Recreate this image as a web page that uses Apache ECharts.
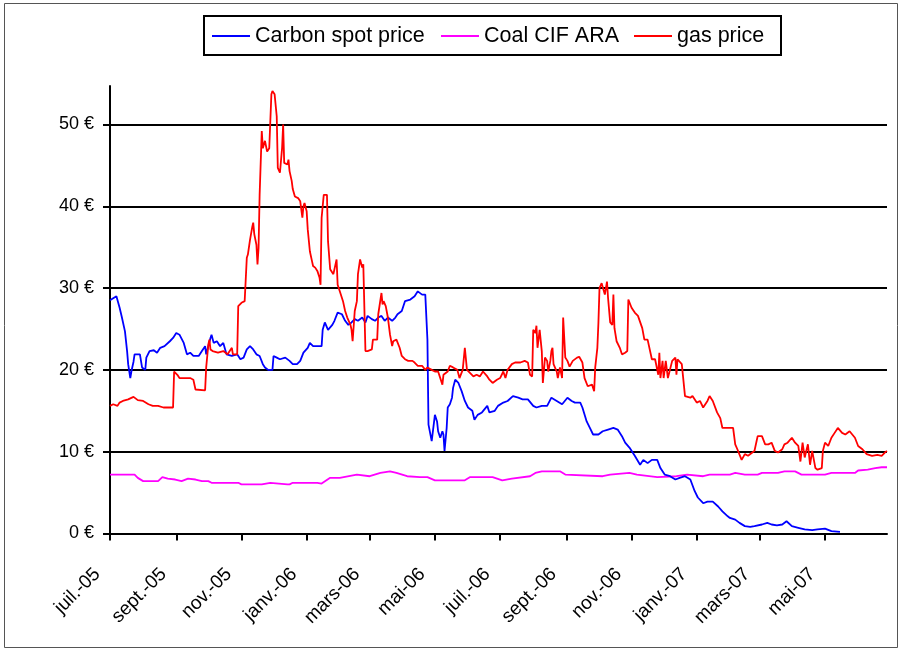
<!DOCTYPE html>
<html>
<head>
<meta charset="utf-8">
<script src="https://cdn.jsdelivr.net/npm/echarts@6/dist/echarts.min.js"></script>
<style>
html,body{margin:0;padding:0;background:#fff;}
#chart{width:905px;height:655px;}
</style>
</head>
<body>
<div id="chart"></div>
<script>
// ---- Data ----
const seriesNames = ['Carbon spot price', 'Coal CIF ARA', 'gas price'];

const tickDates = ['2005-07-01','2005-09-01','2005-11-01','2006-01-01','2006-03-01','2006-05-01',
                   '2006-07-01','2006-09-01','2006-11-01','2007-01-01','2007-03-01','2007-05-01'];
const tickLabels = ['juil.-05','sept.-05','nov.-05','janv.-06','mars-06','mai-06',
                    'juil.-06','sept.-06','nov.-06','janv.-07','mars-07','mai-07'];
const yTicks = [0, 10, 20, 30, 40, 50];

const carbonData = [
['2005-07-01',28.5],['2005-07-07',29.0],['2005-07-10',27.6],['2005-07-12',26.5],['2005-07-15',24.7],
['2005-07-17',22.3],['2005-07-18',20.7],['2005-07-20',19.0],['2005-07-21',19.8],['2005-07-23',21.0],
['2005-07-24',21.9],['2005-07-29',21.9],['2005-07-31',20.3],['2005-08-03',20.0],['2005-08-04',21.5],
['2005-08-07',22.3],['2005-08-11',22.4],['2005-08-14',22.1],['2005-08-17',22.7],['2005-08-21',22.9],
['2005-08-26',23.5],['2005-08-29',23.9],['2005-09-01',24.5],['2005-09-04',24.3],['2005-09-08',23.3],
['2005-09-11',21.9],['2005-09-14',22.1],['2005-09-17',21.7],['2005-09-22',21.7],['2005-09-25',22.3],
['2005-09-28',22.9],['2005-09-29',21.9],['2005-10-03',23.9],['2005-10-04',24.3],['2005-10-06',23.3],
['2005-10-09',23.5],['2005-10-12',22.9],['2005-10-15',23.3],['2005-10-18',21.9],['2005-10-23',21.7],
['2005-10-28',21.9],['2005-10-31',21.3],['2005-11-03',21.5],['2005-11-06',22.5],['2005-11-09',22.9],
['2005-11-12',22.5],['2005-11-15',21.9],['2005-11-18',21.7],['2005-11-21',20.7],['2005-11-23',20.3],
['2005-11-26',20.0],['2005-11-30',20.0],['2005-12-01',21.7],['2005-12-04',21.5],['2005-12-07',21.3],
['2005-12-12',21.5],['2005-12-16',21.1],['2005-12-19',20.7],['2005-12-23',20.7],['2005-12-26',21.1],
['2005-12-29',22.1],['2006-01-02',22.7],['2006-01-04',23.3],['2006-01-07',22.9],['2006-01-15',22.9],
['2006-01-16',24.9],['2006-01-18',25.8],['2006-01-21',24.9],['2006-01-25',25.5],['2006-01-27',26.0],
['2006-01-30',27.0],['2006-02-03',26.8],['2006-02-06',26.0],['2006-02-09',25.5],['2006-02-12',25.8],
['2006-02-15',26.2],['2006-02-18',26.0],['2006-02-22',26.4],['2006-02-25',25.8],['2006-02-27',26.6],
['2006-03-03',26.2],['2006-03-06',26.0],['2006-03-09',26.4],['2006-03-12',26.6],['2006-03-15',26.0],
['2006-03-18',26.4],['2006-03-22',26.0],['2006-03-25',26.4],['2006-03-27',26.8],['2006-03-31',27.2],
['2006-04-03',28.4],['2006-04-08',28.6],['2006-04-12',29.0],['2006-04-15',29.6],['2006-04-19',29.2],
['2006-04-22',29.2],['2006-04-24',23.7],['2006-04-25',13.3],['2006-04-26',13.1],['2006-04-28',11.3],
['2006-04-29',11.1],['2006-05-01',14.5],['2006-05-03',13.7],['2006-05-04',12.5],['2006-05-06',11.7],
['2006-05-08',12.5],['2006-05-09',12.1],['2006-05-10',10.1],['2006-05-12',12.9],['2006-05-13',15.4],
['2006-05-15',15.8],['2006-05-17',16.6],['2006-05-18',17.8],['2006-05-20',18.8],['2006-05-23',18.4],
['2006-05-26',17.4],['2006-05-29',16.2],['2006-06-01',15.4],['2006-06-05',15.0],['2006-06-07',13.9],
['2006-06-10',14.5],['2006-06-14',14.8],['2006-06-19',15.6],['2006-06-21',14.8],['2006-06-26',15.0],
['2006-06-29',15.6],['2006-07-04',16.0],['2006-07-08',16.2],['2006-07-13',16.8],['2006-07-18',16.6],
['2006-07-22',16.4],['2006-07-27',16.4],['2006-08-01',15.6],['2006-08-04',15.4],['2006-08-09',15.6],
['2006-08-14',15.6],['2006-08-18',16.6],['2006-08-23',16.2],['2006-08-28',15.8],['2006-09-02',16.6],
['2006-09-06',16.2],['2006-09-09',16.0],['2006-09-14',16.0],['2006-09-16',15.4],['2006-09-20',13.7],
['2006-09-23',12.9],['2006-09-26',12.1],['2006-10-01',12.1],['2006-10-05',12.5],['2006-10-10',12.7],
['2006-10-15',12.9],['2006-10-19',12.7],['2006-10-23',11.9],['2006-10-26',11.1],['2006-10-30',10.5],
['2006-11-04',9.5],['2006-11-09',8.4],['2006-11-12',9.0],['2006-11-16',8.6],['2006-11-20',9.0],
['2006-11-25',9.0],['2006-11-28',8.0],['2006-12-02',7.2],['2006-12-07',7.0],['2006-12-12',6.6],
['2006-12-16',6.8],['2006-12-21',7.0],['2006-12-26',6.6],['2006-12-30',5.2],['2007-01-02',4.4],
['2007-01-07',3.7],['2007-01-11',3.9],['2007-01-16',3.9],['2007-01-21',3.3],['2007-01-25',2.7],
['2007-01-30',2.1],['2007-02-01',1.9],['2007-02-06',1.7],['2007-02-10',1.3],['2007-02-15',0.9],
['2007-02-20',0.8],['2007-02-24',0.9],['2007-03-03',1.1],['2007-03-08',1.3],['2007-03-12',1.1],
['2007-03-17',1.0],['2007-03-22',1.1],['2007-03-26',1.5],['2007-03-31',0.9],['2007-04-06',0.7],
['2007-04-12',0.5],['2007-04-19',0.4],['2007-04-24',0.5],['2007-05-01',0.6],['2007-05-07',0.3],
['2007-05-15',0.2]
];

const coalData = [
['2005-07-01',7.2],['2005-07-24',7.2],['2005-07-27',6.8],['2005-08-01',6.4],['2005-08-15',6.4],
['2005-08-19',6.9],['2005-08-24',6.7],['2005-08-31',6.6],['2005-09-06',6.4],['2005-09-12',6.7],
['2005-09-19',6.6],['2005-09-25',6.4],['2005-10-01',6.4],['2005-10-04',6.2],['2005-10-29',6.2],
['2005-11-01',6.0],['2005-11-20',6.0],['2005-11-28',6.2],['2005-12-14',6.0],['2005-12-16',6.0],
['2005-12-19',6.2],['2006-01-11',6.2],['2006-01-15',6.1],['2006-01-23',6.8],['2006-02-01',6.8],
['2006-02-17',7.2],['2006-03-01',7.0],['2006-03-11',7.4],['2006-03-20',7.6],['2006-03-26',7.4],
['2006-04-05',7.0],['2006-04-17',6.9],['2006-04-24',6.9],['2006-05-01',6.5],['2006-05-29',6.5],
['2006-06-03',6.9],['2006-06-24',6.9],['2006-07-03',6.5],['2006-07-12',6.7],['2006-07-29',7.0],
['2006-08-03',7.4],['2006-08-09',7.6],['2006-08-15',7.6],['2006-08-26',7.6],['2006-08-31',7.2],
['2006-10-05',7.0],['2006-10-12',7.2],['2006-10-30',7.4],['2006-11-06',7.2],['2006-11-25',6.9],
['2006-12-13',7.0],['2006-12-23',7.2],['2007-01-07',7.0],['2007-01-13',7.2],['2007-02-01',7.2],
['2007-02-06',7.4],['2007-02-15',7.2],['2007-02-27',7.2],['2007-03-03',7.4],['2007-03-18',7.4],
['2007-03-24',7.6],['2007-04-03',7.6],['2007-04-09',7.2],['2007-05-01',7.2],['2007-05-07',7.4],
['2007-05-29',7.4],['2007-06-01',7.7],['2007-06-10',7.8],['2007-06-17',8.0],['2007-06-23',8.1],
['2007-06-28',8.1]
];

const gasData = [
['2005-07-01',15.6],['2005-07-04',15.8],['2005-07-08',15.6],['2005-07-10',16.0],['2005-07-13',16.2],
['2005-07-18',16.4],['2005-07-23',16.7],['2005-07-27',16.3],['2005-08-01',16.2],['2005-08-06',15.8],
['2005-08-10',15.6],['2005-08-15',15.6],['2005-08-20',15.4],['2005-08-24',15.4],['2005-08-29',15.4],
['2005-08-30',19.8],['2005-09-02',19.4],['2005-09-04',19.0],['2005-09-14',19.0],['2005-09-17',18.8],
['2005-09-19',17.6],['2005-09-28',17.5],['2005-09-29',20.3],['2005-10-01',23.1],['2005-10-02',23.7],
['2005-10-03',22.5],['2005-10-05',22.3],['2005-10-10',22.1],['2005-10-15',22.3],['2005-10-19',21.9],
['2005-10-23',22.7],['2005-10-24',21.9],['2005-10-28',21.9],['2005-10-29',27.8],['2005-11-01',28.2],
['2005-11-04',28.4],['2005-11-06',33.7],['2005-11-07',34.1],['2005-11-09',35.9],['2005-11-11',37.4],
['2005-11-12',38.0],['2005-11-13',36.6],['2005-11-15',35.3],['2005-11-16',32.9],['2005-11-17',34.9],
['2005-11-18',41.4],['2005-11-20',49.2],['2005-11-21',47.1],['2005-11-23',48.0],['2005-11-25',46.7],
['2005-11-27',47.1],['2005-11-29',53.7],['2005-11-30',54.1],['2005-12-02',53.7],['2005-12-04',51.0],
['2005-12-05',44.7],['2005-12-07',44.1],['2005-12-09',47.1],['2005-12-10',50.0],['2005-12-11',45.3],
['2005-12-14',45.1],['2005-12-15',45.7],['2005-12-16',44.3],['2005-12-18',43.1],['2005-12-19',42.1],
['2005-12-21',41.2],['2005-12-24',41.0],['2005-12-26',40.6],['2005-12-28',38.6],['2005-12-29',40.0],
['2005-12-30',40.4],['2006-01-01',39.4],['2006-01-02',37.2],['2006-01-04',34.5],['2006-01-06',33.3],
['2006-01-07',32.7],['2006-01-09',32.5],['2006-01-11',32.1],['2006-01-13',31.3],['2006-01-14',30.4],
['2006-01-15',38.6],['2006-01-17',41.4],['2006-01-20',41.4],['2006-01-21',35.7],['2006-01-23',32.3],
['2006-01-26',31.7],['2006-01-27',31.7],['2006-01-29',33.5],['2006-01-30',30.4],['2006-02-01',29.6],
['2006-02-04',28.4],['2006-02-06',27.2],['2006-02-08',26.4],['2006-02-11',25.5],['2006-02-12',24.9],
['2006-02-13',23.5],['2006-02-15',27.2],['2006-02-17',28.4],['2006-02-18',31.7],['2006-02-20',33.5],
['2006-02-22',32.5],['2006-02-23',32.9],['2006-02-25',22.3],['2006-02-27',22.3],['2006-03-03',22.5],
['2006-03-04',23.7],['2006-03-08',23.7],['2006-03-09',26.8],['2006-03-12',29.4],['2006-03-13',28.0],
['2006-03-14',28.4],['2006-03-16',27.8],['2006-03-18',26.4],['2006-03-20',24.3],['2006-03-22',22.9],
['2006-03-23',23.5],['2006-03-26',23.7],['2006-03-29',22.7],['2006-03-31',21.7],['2006-04-03',21.3],
['2006-04-06',21.1],['2006-04-10',21.1],['2006-04-12',20.9],['2006-04-15',20.5],['2006-04-19',20.5],
['2006-04-22',20.0],['2006-04-24',20.3],['2006-04-28',20.0],['2006-05-01',19.8],['2006-05-04',19.8],
['2006-05-08',18.2],['2006-05-09',19.4],['2006-05-10',19.2],['2006-05-13',19.8],['2006-05-15',20.5],
['2006-05-18',20.3],['2006-05-22',20.0],['2006-05-24',19.0],['2006-05-27',20.0],['2006-05-29',22.7],
['2006-05-31',20.0],['2006-06-03',19.6],['2006-06-06',19.2],['2006-06-09',19.4],['2006-06-12',19.2],
['2006-06-15',19.8],['2006-06-19',19.2],['2006-06-21',18.8],['2006-06-24',18.4],['2006-06-28',18.8],
['2006-07-01',19.0],['2006-07-04',19.8],['2006-07-06',19.0],['2006-07-08',20.0],['2006-07-12',20.7],
['2006-07-15',20.9],['2006-07-20',20.9],['2006-07-24',21.1],['2006-07-27',20.9],['2006-07-29',19.4],
['2006-07-31',19.2],['2006-08-01',24.9],['2006-08-03',24.5],['2006-08-04',25.4],['2006-08-05',22.7],
['2006-08-07',24.9],['2006-08-09',22.3],['2006-08-10',18.4],['2006-08-12',21.5],['2006-08-14',21.1],
['2006-08-15',19.8],['2006-08-17',21.1],['2006-08-18',22.3],['2006-08-19',22.7],['2006-08-20',20.7],
['2006-08-23',19.8],['2006-08-24',19.0],['2006-08-26',20.3],['2006-08-28',19.0],['2006-08-29',26.4],
['2006-08-31',21.5],['2006-09-02',21.1],['2006-09-04',20.4],['2006-09-07',21.1],['2006-09-11',21.5],
['2006-09-13',21.6],['2006-09-16',20.9],['2006-09-18',19.0],['2006-09-21',18.0],['2006-09-25',18.2],
['2006-09-27',17.4],['2006-09-28',20.3],['2006-09-30',22.7],['2006-10-01',25.8],['2006-10-02',30.0],
['2006-10-04',30.6],['2006-10-05',30.4],['2006-10-07',29.2],['2006-10-09',30.8],['2006-10-10',28.8],
['2006-10-12',25.8],['2006-10-14',25.5],['2006-10-15',29.2],['2006-10-16',25.1],['2006-10-18',23.5],
['2006-10-21',22.7],['2006-10-23',21.9],['2006-10-26',22.1],['2006-10-28',22.3],['2006-10-29',28.6],
['2006-11-01',27.6],['2006-11-04',27.0],['2006-11-07',26.6],['2006-11-11',25.1],['2006-11-13',23.7],
['2006-11-16',23.7],['2006-11-20',21.3],['2006-11-23',21.3],['2006-11-26',19.4],['2006-11-27',22.1],
['2006-11-28',19.0],['2006-11-30',21.1],['2006-12-01',19.0],['2006-12-03',21.1],['2006-12-05',19.0],
['2006-12-09',21.1],['2006-12-12',21.5],['2006-12-13',19.4],['2006-12-14',21.3],['2006-12-18',20.7],
['2006-12-21',16.8],['2006-12-26',16.6],['2006-12-28',16.8],['2007-01-01',16.0],['2007-01-04',16.2],
['2007-01-07',15.4],['2007-01-11',16.2],['2007-01-13',16.8],['2007-01-16',16.2],['2007-01-20',14.8],
['2007-01-23',14.1],['2007-01-25',12.9],['2007-02-04',12.9],['2007-02-06',10.9],['2007-02-08',10.3],
['2007-02-12',9.0],['2007-02-15',9.7],['2007-02-18',9.5],['2007-02-22',9.9],['2007-02-24',10.1],
['2007-02-26',11.3],['2007-02-27',11.9],['2007-03-03',11.9],['2007-03-06',10.9],['2007-03-09',10.9],
['2007-03-12',11.1],['2007-03-15',10.1],['2007-03-18',9.9],['2007-03-22',10.3],['2007-03-24',10.9],
['2007-03-27',11.1],['2007-03-31',11.7],['2007-04-03',11.1],['2007-04-06',10.7],['2007-04-08',8.8],
['2007-04-10',11.1],['2007-04-12',9.3],['2007-04-15',10.9],['2007-04-17',8.4],['2007-04-19',10.1],
['2007-04-22',8.0],['2007-04-24',7.8],['2007-04-28',8.0],['2007-04-29',10.1],['2007-05-01',11.1],
['2007-05-04',10.7],['2007-05-07',11.7],['2007-05-10',12.3],['2007-05-13',12.9],['2007-05-17',12.3],
['2007-05-20',12.1],['2007-05-24',12.5],['2007-05-29',11.7],['2007-06-01',10.7],['2007-06-05',10.3],
['2007-06-09',9.7],['2007-06-14',9.5],['2007-06-19',9.6],['2007-06-23',9.5],['2007-06-26',9.9],
['2007-06-28',10.1]
];

// ---- Chart ----
function ts(s) { const p = s.split('-').map(Number); return Date.UTC(p[0], p[1] - 1, p[2]); }
const tickTs = tickDates.map(ts);
function labelFor(v) {
  let best = 0, bd = Infinity;
  tickTs.forEach((t, i) => { const d = Math.abs(t - v); if (d < bd) { bd = d; best = i; } });
  return tickLabels[best];
}
const toXY = (arr) => arr.map(d => [ts(d[0]), d[1]]);

const FONT = 'Liberation Sans, Arial, sans-serif';
const legendLefts = [212, 441, 634];
const seriesColors = ['#0000ff', '#ff00ff', '#ff0000'];

const chart = echarts.init(document.getElementById('chart'), null, { renderer: 'canvas' });
chart.setOption({
  animation: false,
  backgroundColor: '#fff',
  textStyle: { fontFamily: FONT },
  graphic: [
    { type: 'rect', shape: { x: 4.5, y: 3.5, width: 893, height: 644 },
      style: { fill: 'none', stroke: '#555', lineWidth: 1 }, silent: true, z: -10 },
    { type: 'rect', shape: { x: 204, y: 16, width: 577, height: 39 },
      style: { fill: 'none', stroke: '#000', lineWidth: 2 }, silent: true, z: 10 }
  ],
  legend: seriesNames.map((n, i) => ({
    data: [n],
    left: legendLefts[i], top: 25,
    padding: 0, itemGap: 0, itemWidth: 38, itemHeight: 2,
    icon: 'rect',
    textStyle: { fontFamily: FONT, fontSize: 21.5, color: '#000' }
  })),
  grid: { left: 110, right: 18, top: 86, bottom: 121.5, containLabel: false },
  xAxis: {
    type: 'value',
    min: ts('2005-07-01'), max: ts('2007-06-28'),
    axisLine: { show: true, lineStyle: { color: '#000', width: 2 } },
    axisTick: { show: true, customValues: tickTs, length: 7, inside: false, lineStyle: { color: '#000', width: 2 } },
    axisLabel: {
      customValues: tickTs, rotate: 45, margin: 25, padding: [0, 18, 0, 0],
      fontFamily: FONT, fontSize: 19, color: '#000',
      formatter: (v) => labelFor(v)
    },
    splitLine: { show: false }, minorTick: { show: false }
  },
  yAxis: {
    type: 'value', min: 0, max: 54.7, interval: 10,
    axisLine: { show: true, lineStyle: { color: '#000', width: 2 } },
    axisTick: { show: true, customValues: yTicks, length: 7, lineStyle: { color: '#000', width: 2 } },
    axisLabel: { customValues: yTicks, margin: 16, fontFamily: FONT, fontSize: 18, color: '#000', formatter: (v) => v + ' €' },
    splitLine: { show: true, lineStyle: { color: '#000', width: 2 } }
  },
  series: seriesNames.map((n, i) => ({
    name: n, type: 'line', data: toXY([carbonData, coalData, gasData][i]),
    showSymbol: false, symbol: 'none',
    lineStyle: { color: seriesColors[i], width: 1.8 }, itemStyle: { color: seriesColors[i] },
    z: [3, 2, 4][i]
  }))
});
</script>
</body>
</html>
